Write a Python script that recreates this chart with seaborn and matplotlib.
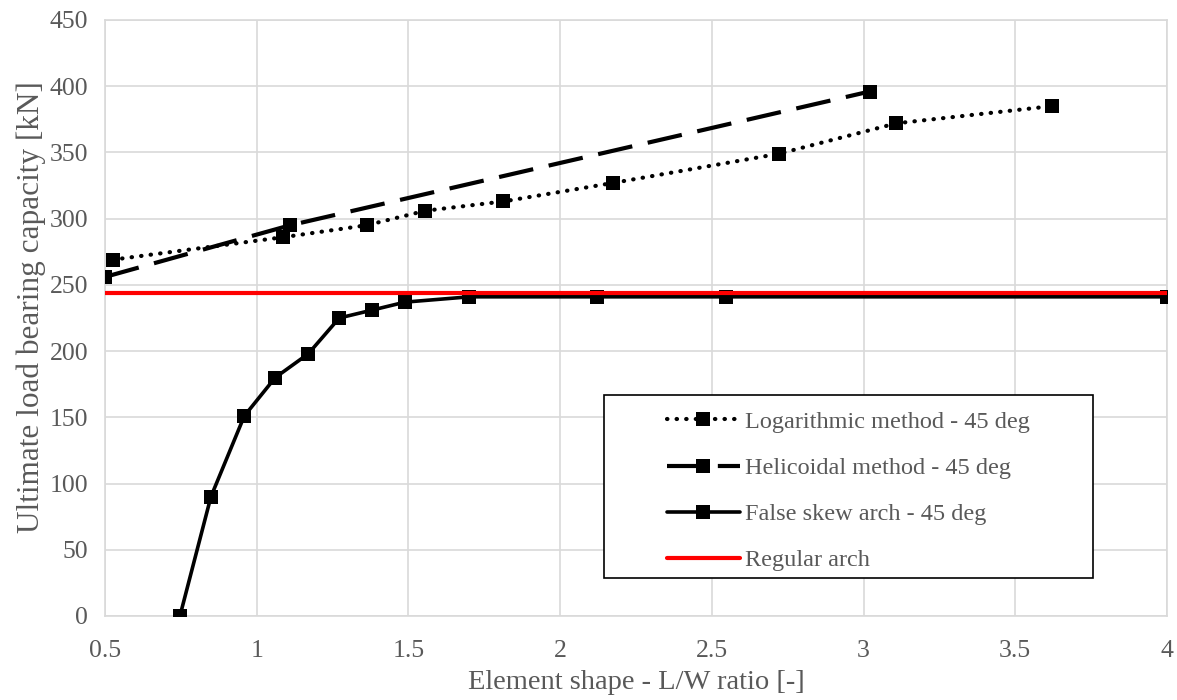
import matplotlib
matplotlib.use("Agg")
import matplotlib.pyplot as plt
import seaborn as sns
from matplotlib.patches import Rectangle
from matplotlib.lines import Line2D

# ---- data ----
log_x = [0.525, 1.087, 1.362, 1.556, 1.813, 2.175, 2.721, 3.108, 3.622]
log_y = [269, 286, 295, 306, 313, 327, 349, 372, 385]

heli_x = [0.50, 1.11, 3.02]
heli_y = [256, 295, 396]

false_x = [0.747, 0.849, 0.959, 1.061, 1.170, 1.272, 1.381, 1.489, 1.701, 2.122, 2.545, 4.0]
false_y = [0, 90, 151, 180, 198, 225, 231, 237, 241, 241, 241, 241]

regular_x = [0.5, 4.0]
regular_y = [244, 244]

labels = ["Logarithmic method - 45 deg", "Helicoidal method - 45 deg",
          "False skew arch - 45 deg", "Regular arch"]
xticks = [0.5, 1, 1.5, 2, 2.5, 3, 3.5, 4]
xticklabels = ["0.5", "1", "1.5", "2", "2.5", "3", "3.5", "4"]
yticks = list(range(0, 451, 50))

# ---- style ----
sns.set_theme(style="white")
plt.rcParams['font.family'] = ['Liberation Serif', 'DejaVu Serif']
grey = "#595959"
gridc = "#d9d9d9"

fig = plt.figure(figsize=(11.77, 7.0), dpi=100)
ax = fig.add_axes([105/1177, 84/700, 1062/1177, 596/700])

dot_ls = (0, (0.1, 2.2))
dash_ls = (0, (8.4, 3.8))

sns.lineplot(x=log_x, y=log_y, ax=ax, color="black", marker="s", markersize=9.5,
             linewidth=3, linestyle=dot_ls, dash_capstyle="round",
             markeredgewidth=0, zorder=3)
sns.lineplot(x=heli_x, y=heli_y, ax=ax, color="black", marker="s", markersize=9.5,
             linewidth=3, linestyle=dash_ls, markeredgewidth=0, zorder=3)
sns.lineplot(x=false_x, y=false_y, ax=ax, color="black", marker="s", markersize=9.5,
             linewidth=2.6, linestyle="-", markeredgewidth=0, zorder=3)
sns.lineplot(x=regular_x, y=regular_y, ax=ax, color="#ff0000", linewidth=3,
             linestyle="-", zorder=4)

ax.set_xlim(0.5, 4.0)
ax.set_ylim(0, 450)
ax.set_xticks(xticks)
ax.set_xticklabels(xticklabels)
ax.set_yticks(yticks)
ax.grid(True, color=gridc, linewidth=1.2, zorder=0)
ax.set_axisbelow(True)
for s in ax.spines.values():
    s.set_color(gridc)
    s.set_linewidth(1.2)
ax.tick_params(axis="both", length=0, labelsize=18.5, colors=grey)
ax.tick_params(axis="x", pad=17)
ax.tick_params(axis="y", pad=12)

ax.set_xlabel("Element shape - L/W ratio [-]", fontsize=20.5, color=grey, labelpad=6)
ax.set_ylabel("Ultimate load bearing capacity [kN]", fontsize=22.5, color=grey, labelpad=2.5)
ax.yaxis.label.set_y(0.518)

# legend box
rect = Rectangle((0.47, 0.064), 0.46, 0.307, transform=ax.transAxes,
                 facecolor="white", edgecolor="black", linewidth=1.2, zorder=5)
ax.add_patch(rect)

handles = [
    Line2D([], [], color="black", marker="s", markersize=9.5, markeredgewidth=0,
           linewidth=3, linestyle=dot_ls, dash_capstyle="round"),
    Line2D([], [], color="black", marker="s", markersize=9.5, markeredgewidth=0,
           linewidth=3, linestyle=dash_ls),
    Line2D([], [], color="black", marker="s", markersize=9.5, markeredgewidth=0,
           linewidth=2.6, linestyle="-"),
    Line2D([], [], color="#ff0000", linewidth=3, linestyle="-"),
]
leg = ax.legend(handles, labels, loc="upper left", bbox_to_anchor=(0.529, 0.344),
                frameon=False, fontsize=17.5, handlelength=3.0, handletextpad=0.2,
                labelspacing=0.99, borderpad=0, borderaxespad=0)
leg.set_zorder(6)
for t in leg.get_texts():
    t.set_color(grey)

fig.savefig("out.png", dpi=100)
